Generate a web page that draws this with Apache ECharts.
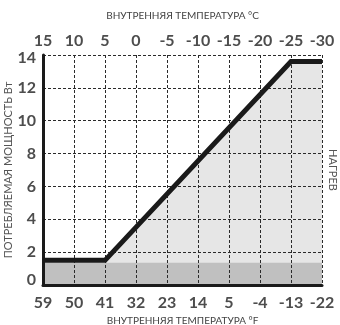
<!DOCTYPE html>
<html><head><meta charset="utf-8">
<script src="https://cdn.jsdelivr.net/npm/echarts@6/dist/echarts.min.js"></script>
<style>html,body{margin:0;padding:0;background:#fff}#c{width:340px;height:325px}</style>
</head><body><div id="c"></div>
<script>
// data
const tempC = [15, 5, -25, -30];
const powerW = [1.5, 1.5, 13.6, 13.6];
const bandTempC = [15, -30];
const bandW = [1.35, 1.35];
// tick labels
const tickC = [15, 10, 5, 0, -5, -10, -15, -20, -25, -30];
const tickCLabels = ['15', '10', '5', '0', '-5', '-10', '-15', '-20', '-25', '-30'];
const tickFLabels = ['59', '50', '41', '32', '23', '14', '5', '-4', '-13', '-22'];
const yTickLabels = ['0', '2', '4', '6', '8', '10', '12', '14'];
const titleTop = 'ВНУТРЕННЯЯ ТЕМПЕРАТУРА °C';
const titleBottom = 'ВНУТРЕННЯЯ ТЕМПЕРАТУРА °F';
const titleY = 'ПОТРЕБЛЯЕМАЯ МОЩНОСТЬ Вт';
const titleRight = 'НАГРЕВ';

const FONT = 'Lato';
const labelColor = '#4d4d4d';
const dash = { color: '#2a2a2a', width: 1, type: [3, 2] };
const numStyle = { color: labelColor, fontFamily: FONT, fontWeight: 'bold', fontSize: 16 };

const chart = echarts.init(document.getElementById('c'), null, { renderer: 'canvas' });
const pairs = (xs, ys) => xs.map((x, i) => [x, ys[i]]);

chart.setOption({
  animation: false,
  grid: { left: 43, right: 18, top: 55, bottom: 40, containLabel: false, outerBoundsMode: 'none' },
  xAxis: [
    {
      type: 'value', position: 'bottom', min: -30, max: 15, interval: 5, inverse: true, z: 5,
      axisLine: { show: true, onZero: false, lineStyle: { color: '#1a1a1a', width: 3 } },
      axisTick: { show: false },
      splitLine: { show: true, lineStyle: dash },
      axisLabel: Object.assign({ margin: 10, formatter: v => tickFLabels[tickC.indexOf(v)] }, numStyle),
      name: titleBottom, nameLocation: 'middle', nameGap: 30,
      nameTextStyle: { color: '#444', fontFamily: FONT, fontSize: 10 }
    },
    {
      type: 'value', position: 'top', min: -30, max: 15, interval: 5, inverse: true, z: 5,
      axisLine: { show: false },
      axisTick: { show: false },
      splitLine: { show: false },
      axisLabel: Object.assign({ margin: 6, formatter: v => tickCLabels[tickC.indexOf(v)] }, numStyle),
      name: titleTop, nameLocation: 'middle', nameGap: 34,
      nameTextStyle: { color: '#444', fontFamily: FONT, fontSize: 10 }
    }
  ],
  yAxis: [
    {
      type: 'value', position: 'left', min: 0, max: 14, interval: 2, z: 5,
      axisLine: { show: true, onZero: false, lineStyle: { color: '#1a1a1a', width: 3 } },
      axisTick: { show: false },
      splitLine: { show: true, lineStyle: dash },
      axisLabel: Object.assign({
        margin: 7,
        formatter: v => v === 14 ? '{t|' + yTickLabels[v / 2] + '}'
          : v === 0 ? '{b|' + yTickLabels[0] + '}' : yTickLabels[v / 2],
        rich: {
          t: Object.assign({ padding: [6, 0, 0, 0] }, numStyle),
          b: Object.assign({ padding: [0, 0, 10, 0] }, numStyle)
        }
      }, numStyle),
      name: titleY, nameLocation: 'middle', nameGap: 29, nameRotate: 90, nameMoveOverlap: false,
      nameTextStyle: { color: '#555', fontFamily: FONT, fontSize: 11 }
    },
    {
      type: 'value', position: 'right', min: 0, max: 14, interval: 2,
      axisLine: { show: false }, axisTick: { show: false }, axisLabel: { show: false },
      splitLine: { show: false },
      name: titleRight, nameLocation: 'middle', nameGap: 5, nameRotate: -90, nameMoveOverlap: false,
      nameTextStyle: { color: '#555', fontFamily: FONT, fontSize: 11 }
    }
  ],
  series: [
    {
      type: 'line', z: 1, data: pairs(tempC, powerW), symbol: 'none',
      lineStyle: { width: 0 }, areaStyle: { color: '#e6e6e6', opacity: 1 }
    },
    {
      type: 'line', z: 2, data: pairs(bandTempC, bandW), symbol: 'none',
      lineStyle: { width: 0 }, areaStyle: { color: '#c0c0c0', opacity: 1 }
    },
    {
      type: 'line', z: 10, data: pairs(tempC, powerW), symbol: 'none',
      lineStyle: { width: 5, color: '#1a1a1a', cap: 'butt', join: 'miter' }
    }
  ]
});
</script></body></html>
